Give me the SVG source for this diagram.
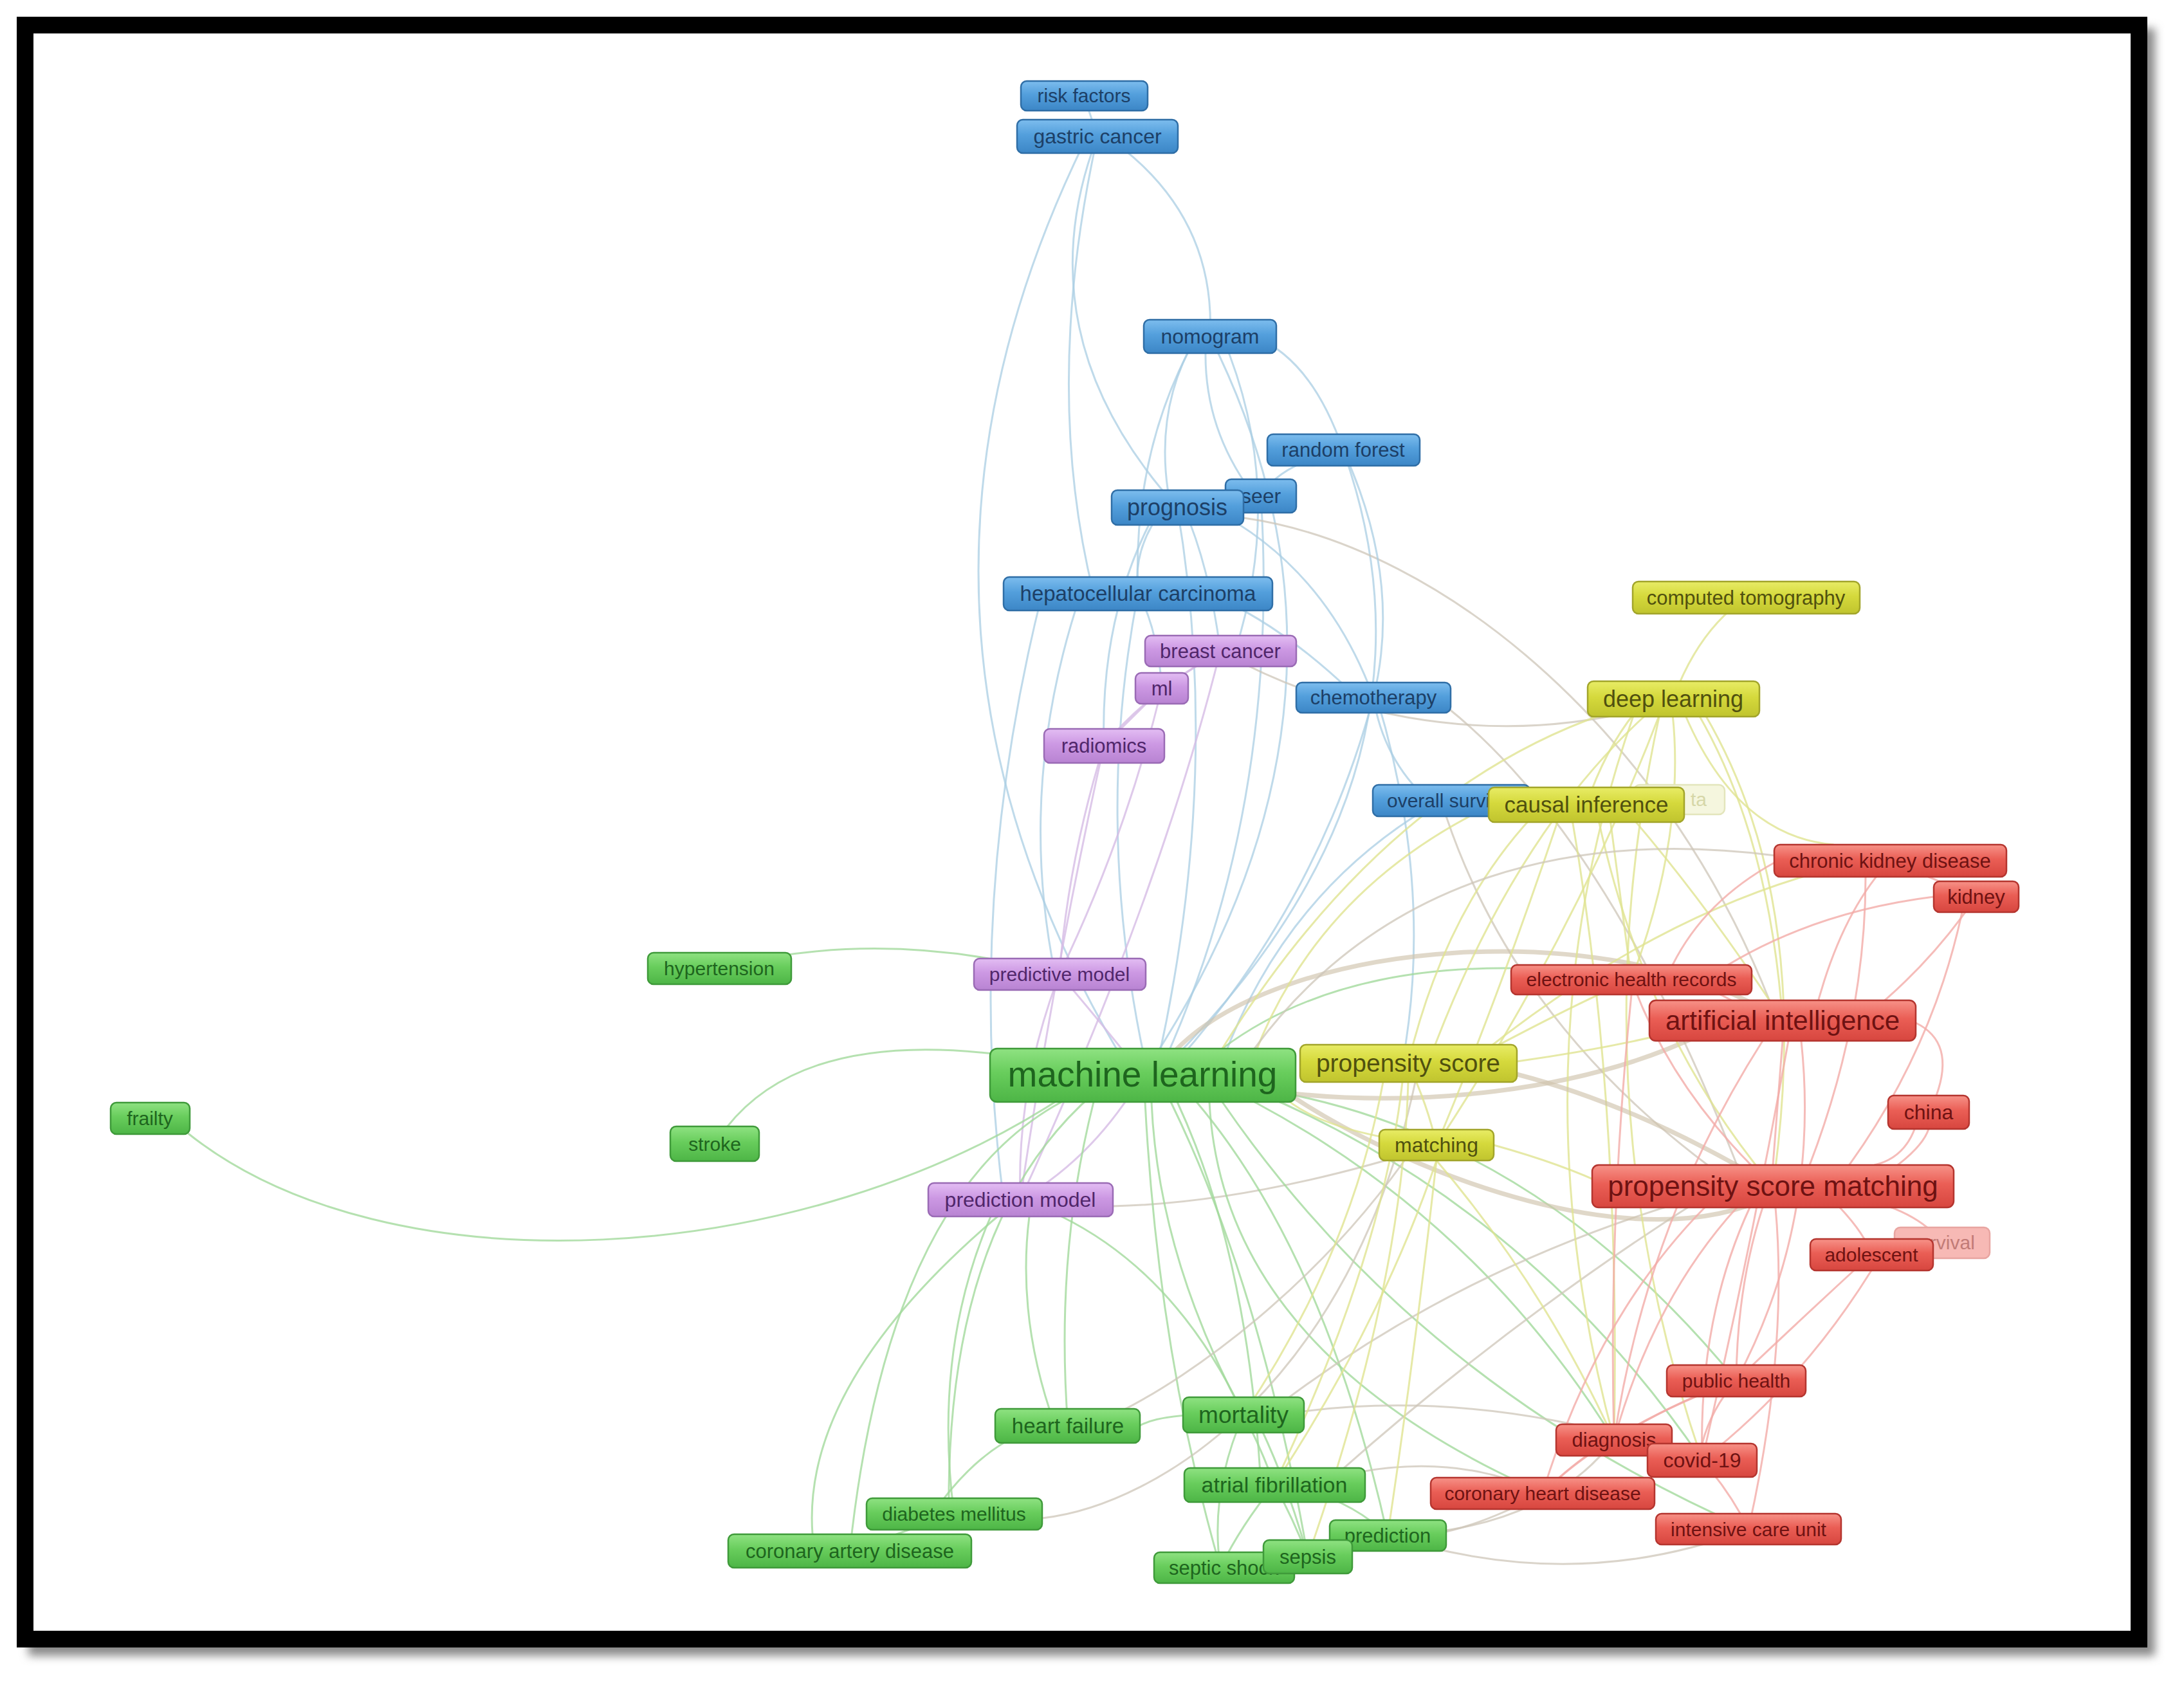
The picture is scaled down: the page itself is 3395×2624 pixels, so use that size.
<svg xmlns="http://www.w3.org/2000/svg" width="3395" height="2624" viewBox="0 0 3395 2624">
<defs>
<filter id="fblur" x="-5%" y="-5%" width="110%" height="110%"><feGaussianBlur stdDeviation="7"/></filter>
<linearGradient id="gG" x1="0" y1="0" x2="0" y2="1"><stop offset="0" stop-color="#8FE282"/><stop offset="0.45" stop-color="#68CD5C"/><stop offset="1" stop-color="#4DB546"/></linearGradient>
<linearGradient id="gB" x1="0" y1="0" x2="0" y2="1"><stop offset="0" stop-color="#7DBDEE"/><stop offset="0.45" stop-color="#539FDC"/><stop offset="1" stop-color="#3C86C6"/></linearGradient>
<linearGradient id="gP" x1="0" y1="0" x2="0" y2="1"><stop offset="0" stop-color="#E3BDF3"/><stop offset="0.45" stop-color="#CC98E3"/><stop offset="1" stop-color="#B883D2"/></linearGradient>
<linearGradient id="gY" x1="0" y1="0" x2="0" y2="1"><stop offset="0" stop-color="#E8EC66"/><stop offset="0.45" stop-color="#D5D93C"/><stop offset="1" stop-color="#C0C42E"/></linearGradient>
<linearGradient id="gR" x1="0" y1="0" x2="0" y2="1"><stop offset="0" stop-color="#F79288"/><stop offset="0.45" stop-color="#EA5E55"/><stop offset="1" stop-color="#D7463F"/></linearGradient>
</defs>
<style>
.node rect{stroke-width:2.5}
.node text{font-family:"Liberation Sans",Arial,sans-serif;text-anchor:middle}
.g rect{fill:url(#gG);stroke:#3F9A3A}
.g text{fill:#1E651E}
.b rect{fill:url(#gB);stroke:#2F6EA6}
.b text{fill:#1D3F66}
.p rect{fill:url(#gP);stroke:#9A6BB5}
.p text{fill:#50266A}
.y rect{fill:url(#gY);stroke:#A2A52A}
.y text{fill:#50500F}
.r rect{fill:url(#gR);stroke:#B5352F}
.r text{fill:#6E1212}
#connectors path{fill:none;stroke-width:3;stroke-linecap:round}
#connectors .eb{stroke:#A9CDE3;opacity:.75}
#connectors .eg{stroke:#A2D99C;opacity:.8}
#connectors .ey{stroke:#E0E391;opacity:.8}
#connectors .er{stroke:#F2ABA8;opacity:.8}
#connectors .ep{stroke:#D6BCE5;opacity:.8}
#connectors .ex{stroke:#CDC6B8;opacity:.75}
#connectors .thick{stroke:#CFC3AC;stroke-width:7;opacity:.65}
</style>
<rect x="0" y="0" width="3395" height="2624" fill="#FFFFFF"/>
<rect x="44" y="44" width="3306" height="2530" fill="#8A8A8A" filter="url(#fblur)"/>
<rect x="39" y="39" width="3286" height="2509" fill="#FFFFFF" stroke="#000000" stroke-width="26"/>

<g id="connectors">
<!-- blue -->
<path class="eb" d="M1685 149 L1706 212"/>
<path class="eb" d="M1690 212 Q1320 960 1760 1671"/>
<path class="eb" d="M1706 212 Q1588 520 1830 789"/>
<path class="eb" d="M1706 212 Q1620 600 1700 923"/>
<path class="eb" d="M1720 212 Q1890 330 1881 523"/>
<path class="eb" d="M1860 523 Q1790 640 1820 789"/>
<path class="eb" d="M1875 523 Q1865 660 1950 771"/>
<path class="eb" d="M1900 523 Q2000 760 1920 1012"/>
<path class="eb" d="M1860 523 Q1760 700 1769 923"/>
<path class="eb" d="M1950 523 Q2040 560 2088 700"/>
<path class="eb" d="M2088 700 Q2266 1200 1820 1650"/>
<path class="eb" d="M1830 789 Q1900 1200 1800 1650"/>
<path class="eb" d="M1769 923 Q1700 1280 1780 1650"/>
<path class="eb" d="M1960 771 Q1990 1250 1810 1650"/>
<path class="eb" d="M1881 523 Q2160 1080 1790 1650"/>
<path class="eb" d="M2135 1084 Q2050 1400 1830 1650"/>
<path class="eb" d="M1810 789 Q1760 850 1769 923"/>
<path class="eb" d="M1800 789 Q1710 950 1716 1159"/>
<path class="eb" d="M1840 789 Q1880 880 1897 1012"/>
<path class="eb" d="M1880 789 Q2060 880 2135 1084"/>
<path class="ex" d="M1933 805 C2250 850 2600 1150 2760 1580"/>
<path class="eb" d="M1880 923 Q1990 970 2100 1075"/>
<path class="eb" d="M1620 923 Q1500 1400 1560 1865"/>
<path class="eb" d="M1680 923 Q1580 1220 1640 1514"/>
<path class="eb" d="M2135 1084 Q2150 1180 2220 1244"/>
<path class="eb" d="M2140 1084 Q2230 1380 2180 1653"/>
<path class="eb" d="M2240 1244 Q2000 1380 1900 1650"/>
<path class="ex" d="M2240 1244 Q2350 1600 2700 1844"/>
<path class="eb" d="M1960 771 Q1990 720 2088 700"/>
<path class="eb" d="M2088 700 Q2180 900 2135 1084"/>
<path class="eb" d="M1770 923 Q1800 980 1806 1070"/>
<path class="ex" d="M1897 1012 C2050 1100 2300 1170 2560 1100"/>
<path class="ex" d="M2250 1100 Q2500 1300 2700 1811"/>
<!-- purple -->
<path class="ep" d="M1897 1012 L1806 1070"/>
<path class="ep" d="M1897 1012 Q1780 1080 1716 1159"/>
<path class="ep" d="M1806 1070 L1716 1159"/>
<path class="ep" d="M1716 1159 Q1660 1340 1647 1514"/>
<path class="ep" d="M1716 1159 Q1640 1500 1586 1865"/>
<path class="ep" d="M1647 1514 Q1580 1690 1586 1865"/>
<path class="ep" d="M1647 1514 Q1720 1600 1776 1671"/>
<path class="ep" d="M1586 1865 Q1700 1800 1776 1671"/>
<path class="ep" d="M1806 1070 Q1750 1300 1647 1514"/>
<path class="ep" d="M1897 1012 Q1800 1400 1586 1865"/>
<path class="eg" d="M1559 1884 Q1228 2162 1266 2411"/>
<path class="eg" d="M1540 1891 Q1450 2100 1483 2353"/>
<path class="eg" d="M1600 1891 Q1580 2050 1640 2216"/>
<path class="eg" d="M1650 1891 Q1830 1980 1933 2199"/>
<path class="ex" d="M1730 1875 Q1950 1870 2233 1780"/>
<!-- green -->
<path class="eg" d="M1118 1505 Q1370 1440 1647 1514"/>
<path class="eg" d="M290 1760 C600 2010 1250 1975 1660 1700"/>
<path class="eg" d="M1130 1752 Q1250 1600 1560 1640"/>
<path class="eg" d="M1700 1713 Q1640 1950 1660 2216"/>
<path class="eg" d="M1700 1700 Q1470 1900 1475 2353"/>
<path class="eg" d="M1790 1713 Q1800 1950 1933 2199"/>
<path class="eg" d="M1830 1713 Q1940 1950 1960 2308"/>
<path class="eg" d="M1780 1713 Q1800 2100 1897 2437"/>
<path class="eg" d="M1820 1713 Q1960 2000 2033 2420"/>
<path class="eg" d="M1860 1713 Q2060 1950 2157 2387"/>
<path class="eg" d="M1650 1713 Q1380 1860 1321 2411"/>
<path class="eg" d="M1880 1713 Q1900 2100 2398 2321"/>
<path class="eg" d="M1950 1713 Q2300 1900 2509 2238"/>
<path class="eg" d="M1960 1700 Q2380 1880 2646 2270"/>
<path class="eg" d="M1900 1713 Q2200 2150 2718 2377"/>
<path class="eg" d="M2000 1700 Q2400 1780 2699 2146"/>
<path class="eg" d="M1772 2216 Q1810 2195 1933 2199"/>
<path class="eg" d="M1560 2243 Q1500 2280 1450 2353"/>
<path class="ex" d="M1620 2360 C1800 2340 2100 2150 2200 1682"/>
<path class="ex" d="M1740 2195 C1850 2140 2050 2000 2200 1780"/>
<path class="eg" d="M1933 2199 Q1960 2250 1981 2308"/>
<path class="eg" d="M1933 2199 Q1880 2320 1897 2437"/>
<path class="eg" d="M1950 2199 Q2000 2300 2033 2420"/>
<path class="eg" d="M1981 2308 Q1930 2370 1897 2437"/>
<path class="eg" d="M1981 2308 Q2010 2360 2033 2420"/>
<path class="eg" d="M2000 2308 Q2100 2330 2157 2387"/>
<path class="eg" d="M1897 2437 L2033 2420"/>
<path class="ex" d="M2000 2175 Q2300 1950 2700 1844"/>
<path class="ex" d="M2080 2290 Q2350 2050 2650 1860"/>
<path class="ex" d="M1990 2199 Q2300 2150 2646 2270"/>
<path class="ex" d="M2060 2300 Q2250 2250 2398 2321"/>
<path class="ex" d="M2157 2387 Q2400 2380 2509 2238"/>
<path class="ex" d="M2157 2387 Q2250 2400 2398 2321"/>
<path class="ex" d="M2157 2387 Q2450 2480 2718 2377"/>
<path class="eg" d="M1483 2353 L1321 2411"/>
<path class="thick" d="M2010 1705 C2200 1830 2550 1960 2750 1860"/>
<path class="thick" d="M1830 1630 C2000 1460 2500 1420 2760 1580"/>
<path class="thick" d="M2010 1700 C2200 1720 2450 1700 2640 1610"/>
<path class="eg" d="M1900 1630 Q2100 1480 2450 1510"/>
<!-- yellow -->
<path class="ey" d="M2714 929 Q2640 980 2601 1086"/>
<path class="ey" d="M2560 1086 Q2500 1150 2466 1251"/>
<path class="ey" d="M2493 1110 Q2150 1230 1900 1630"/>
<path class="ey" d="M2560 1110 Q2350 1300 2220 1653"/>
<path class="ey" d="M2580 1110 Q2450 1450 2233 1780"/>
<path class="ey" d="M2600 1110 Q2620 1300 2536 1523"/>
<path class="ey" d="M2640 1110 Q2750 1300 2771 1586"/>
<path class="ey" d="M2619 1110 Q2700 1300 2850 1313"/>
<path class="ey" d="M2650 1110 Q2820 1400 2756 1844"/>
<path class="ey" d="M2540 1110 Q2350 1650 2509 2238"/>
<path class="ey" d="M2580 1110 Q2450 1700 2646 2270"/>
<path class="ey" d="M2400 1251 Q2250 1400 2189 1653"/>
<path class="ey" d="M2430 1251 Q2330 1550 2233 1780"/>
<path class="ey" d="M2480 1251 Q2550 1600 2756 1844"/>
<path class="ey" d="M2320 1251 Q2050 1380 1950 1640"/>
<path class="ey" d="M2500 1251 Q2520 1400 2536 1523"/>
<path class="ey" d="M2520 1251 Q2650 1400 2771 1586"/>
<path class="ey" d="M2440 1251 Q2520 1700 2509 2238"/>
<path class="ey" d="M2189 1653 Q2220 1720 2233 1780"/>
<path class="thick" d="M2358 1670 Q2550 1720 2756 1844"/>
<path class="ey" d="M2300 1640 Q2450 1560 2536 1523"/>
<path class="ey" d="M2300 1640 Q2600 1400 2900 1338"/>
<path class="ey" d="M2358 1650 Q2500 1630 2620 1600"/>
<path class="ey" d="M2322 1780 Q2430 1810 2500 1844"/>
<path class="ey" d="M2233 1780 Q2050 1760 1990 1700"/>
<path class="ey" d="M2233 1804 Q2150 2050 1981 2308"/>
<path class="ey" d="M2233 1804 Q2200 2100 2157 2387"/>
<path class="ey" d="M2233 1804 Q2400 2000 2509 2238"/>
<path class="ey" d="M2189 1682 Q2180 2000 2033 2420"/>
<path class="ey" d="M2180 1682 Q2150 1950 1981 2308"/>
<path class="ey" d="M2150 1682 Q2100 1950 1933 2199"/>
<!-- red -->
<path class="er" d="M2756 1811 L2771 1618"/>
<path class="er" d="M2950 1811 Q2990 1780 2998 1755"/>
<path class="er" d="M2978 1590 Q3040 1620 3010 1703"/>
<path class="er" d="M2977 1753 Q2960 1800 2914 1811"/>
<path class="er" d="M2860 1877 Q2900 1920 2909 1950"/>
<path class="er" d="M2880 1860 Q2980 1880 3019 1932"/>
<path class="er" d="M2740 1877 Q2700 2000 2699 2146"/>
<path class="er" d="M2720 1877 Q2640 2050 2646 2270"/>
<path class="er" d="M2700 1877 Q2570 2020 2509 2238"/>
<path class="er" d="M2760 1877 Q2780 2100 2718 2377"/>
<path class="er" d="M2650 1877 Q2480 2050 2398 2321"/>
<path class="er" d="M2800 1618 Q2830 1900 2699 2146"/>
<path class="er" d="M2780 1618 Q2720 1950 2646 2270"/>
<path class="er" d="M2740 1618 Q2560 1900 2509 2238"/>
<path class="er" d="M2820 1580 Q2860 1420 2938 1338"/>
<path class="er" d="M2900 1580 Q3000 1500 3072 1394"/>
<path class="er" d="M2700 1560 Q2650 1530 2600 1523"/>
<path class="er" d="M2900 1363 Q2900 1600 2800 1844"/>
<path class="er" d="M3050 1418 Q3000 1650 2850 1844"/>
<path class="er" d="M2938 1338 L3072 1394"/>
<path class="ex" d="M2760 1330 C2450 1290 2150 1360 1950 1630"/>
<path class="er" d="M3006 1394 Q2800 1420 2650 1523"/>
<path class="er" d="M2760 1340 Q2650 1400 2600 1500"/>
<path class="er" d="M2536 1523 Q2600 1700 2756 1844"/>
<path class="er" d="M2536 1546 Q2500 1900 2509 2238"/>
<path class="er" d="M2646 2270 Q2690 2320 2718 2377"/>
<path class="er" d="M2646 2244 Q2660 2190 2699 2146"/>
<path class="er" d="M2509 2238 Q2600 2180 2699 2146"/>
<path class="er" d="M2398 2321 Q2460 2260 2509 2238"/>
<path class="er" d="M2398 2321 Q2500 2220 2699 2146"/>
<path class="er" d="M2909 1950 Q2800 2050 2699 2146"/>
<path class="er" d="M2909 1975 Q2800 2150 2646 2270"/>
</g>

<!-- blue nodes -->
<g id="n-risk-factors" class="node b"><rect x="1587" y="126" width="197" height="46" rx="9"/><text x="1685" y="159" font-size="30">risk factors</text></g>
<g id="n-gastric-cancer" class="node b"><rect x="1581" y="186" width="250" height="52" rx="9"/><text x="1706" y="223" font-size="32">gastric cancer</text></g>
<g id="n-nomogram" class="node b"><rect x="1778" y="497" width="206" height="52" rx="9"/><text x="1881" y="534" font-size="32">nomogram</text></g>
<g id="n-random-forest" class="node b"><rect x="1970" y="675" width="237" height="49" rx="9"/><text x="2088" y="710" font-size="31">random forest</text></g>
<g id="n-seer" class="node b"><rect x="1905" y="745" width="110" height="52" rx="9"/><text x="1960" y="782" font-size="32">seer</text></g>
<g id="n-prognosis" class="node b"><rect x="1728" y="762" width="205" height="54" rx="9"/><text x="1830" y="801" font-size="36">prognosis</text></g>
<g id="n-hepatocellular-carcinoma" class="node b"><rect x="1560" y="897" width="418" height="52" rx="9"/><text x="1769" y="934" font-size="33">hepatocellular carcinoma</text></g>
<g id="n-chemotherapy" class="node b"><rect x="2015" y="1061" width="240" height="47" rx="9"/><text x="2135" y="1095" font-size="31">chemotherapy</text></g>
<g id="n-overall-survival" class="node b"><rect x="2134" y="1220" width="244" height="49" rx="9"/><text x="2156" y="1255" font-size="30" style="text-anchor:start">overall survival</text></g>

<!-- purple nodes -->
<g id="n-breast-cancer" class="node p"><rect x="1780" y="988" width="235" height="48" rx="9"/><text x="1897" y="1023" font-size="31">breast cancer</text></g>
<g id="n-ml" class="node p"><rect x="1765" y="1046" width="82" height="48" rx="9"/><text x="1806" y="1081" font-size="31">ml</text></g>
<g id="n-radiomics" class="node p"><rect x="1623" y="1133" width="187" height="53" rx="9"/><text x="1716" y="1170" font-size="31">radiomics</text></g>
<g id="n-predictive-model" class="node p"><rect x="1514" y="1490" width="267" height="49" rx="9"/><text x="1647" y="1525" font-size="30">predictive model</text></g>
<g id="n-prediction-model" class="node p"><rect x="1443" y="1839" width="287" height="52" rx="9"/><text x="1586" y="1876" font-size="32">prediction model</text></g>

<!-- yellow nodes -->
<g id="n-computed-tomography" class="node y"><rect x="2538" y="904" width="353" height="50" rx="9"/><text x="2714" y="940" font-size="31">computed tomography</text></g>
<g id="n-deep-learning" class="node y"><rect x="2468" y="1059" width="267" height="55" rx="9"/><text x="2601" y="1099" font-size="36">deep learning</text></g>
<g id="n-faded-data" class="node"><rect x="2540" y="1220" width="141" height="46" rx="9" fill="#F5F6DE" stroke="#E3E5BC"/><text x="2653" y="1253" font-size="30" fill="#D6D7A8" style="text-anchor:end">ta</text></g>
<g id="n-causal-inference" class="node y"><rect x="2314" y="1224" width="304" height="54" rx="9"/><text x="2466" y="1263" font-size="35">causal inference</text></g>
<g id="n-propensity-score" class="node y"><rect x="2021" y="1624" width="337" height="58" rx="9"/><text x="2189" y="1666" font-size="39">propensity score</text></g>
<g id="n-matching" class="node y"><rect x="2144" y="1756" width="178" height="48" rx="9"/><text x="2233" y="1791" font-size="32">matching</text></g>

<!-- red nodes -->
<g id="n-chronic-kidney-disease" class="node r"><rect x="2758" y="1313" width="361" height="50" rx="9"/><text x="2938" y="1349" font-size="31">chronic kidney disease</text></g>
<g id="n-kidney" class="node r"><rect x="3006" y="1370" width="132" height="48" rx="9"/><text x="3072" y="1405" font-size="31">kidney</text></g>
<g id="n-electronic-health-records" class="node r"><rect x="2349" y="1500" width="374" height="46" rx="9"/><text x="2536" y="1533" font-size="30">electronic health records</text></g>
<g id="n-artificial-intelligence" class="node r"><rect x="2564" y="1555" width="414" height="63" rx="10"/><text x="2771" y="1601" font-size="42">artificial intelligence</text></g>
<g id="n-china" class="node r"><rect x="2935" y="1703" width="126" height="52" rx="9"/><text x="2998" y="1740" font-size="32">china</text></g>
<g id="n-propensity-score-matching" class="node r"><rect x="2475" y="1811" width="562" height="66" rx="10"/><text x="2756" y="1859" font-size="44">propensity score matching</text></g>
<g id="n-survival" class="node"><rect x="2945" y="1908" width="148" height="48" rx="9" fill="#F7B9B5" stroke="#E8A5A1"/><text x="3019" y="1942" font-size="30" fill="#C27B77">survival</text></g>
<g id="n-adolescent" class="node r"><rect x="2814" y="1926" width="191" height="49" rx="9"/><text x="2909" y="1961" font-size="30">adolescent</text></g>
<g id="n-public-health" class="node r"><rect x="2591" y="2122" width="216" height="49" rx="9"/><text x="2699" y="2157" font-size="30">public health</text></g>
<g id="n-diagnosis" class="node r"><rect x="2419" y="2214" width="180" height="49" rx="9"/><text x="2509" y="2249" font-size="31">diagnosis</text></g>
<g id="n-covid-19" class="node r"><rect x="2561" y="2244" width="170" height="52" rx="9"/><text x="2646" y="2281" font-size="32">covid-19</text></g>
<g id="n-coronary-heart-disease" class="node r"><rect x="2224" y="2297" width="348" height="49" rx="9"/><text x="2398" y="2332" font-size="30">coronary heart disease</text></g>
<g id="n-intensive-care-unit" class="node r"><rect x="2574" y="2353" width="288" height="48" rx="9"/><text x="2718" y="2388" font-size="30">intensive care unit</text></g>

<!-- green nodes -->
<g id="n-hypertension" class="node g"><rect x="1007" y="1481" width="223" height="49" rx="9"/><text x="1118" y="1516" font-size="30">hypertension</text></g>
<g id="n-frailty" class="node g"><rect x="172" y="1714" width="123" height="49" rx="9"/><text x="233" y="1749" font-size="30">frailty</text></g>
<g id="n-stroke" class="node g"><rect x="1042" y="1751" width="138" height="54" rx="9"/><text x="1111" y="1789" font-size="30">stroke</text></g>
<g id="n-machine-learning" class="node g"><rect x="1539" y="1630" width="475" height="83" rx="11"/><text x="1776" y="1689" font-size="55">machine learning</text></g>
<g id="n-heart-failure" class="node g"><rect x="1547" y="2190" width="225" height="53" rx="9"/><text x="1660" y="2228" font-size="33">heart failure</text></g>
<g id="n-mortality" class="node g"><rect x="1839" y="2172" width="188" height="55" rx="9"/><text x="1933" y="2212" font-size="37">mortality</text></g>
<g id="n-atrial-fibrillation" class="node g"><rect x="1841" y="2282" width="281" height="53" rx="9"/><text x="1981" y="2320" font-size="34">atrial fibrillation</text></g>
<g id="n-diabetes-mellitus" class="node g"><rect x="1347" y="2329" width="273" height="49" rx="9"/><text x="1483" y="2364" font-size="30">diabetes mellitus</text></g>
<g id="n-coronary-artery-disease" class="node g"><rect x="1132" y="2385" width="378" height="52" rx="9"/><text x="1321" y="2422" font-size="31">coronary artery disease</text></g>
<g id="n-septic-shock" class="node g"><rect x="1794" y="2413" width="218" height="48" rx="9"/><text x="1817" y="2448" font-size="31" style="text-anchor:start">septic shock</text></g>
<g id="n-prediction" class="node g"><rect x="2067" y="2363" width="181" height="48" rx="9"/><text x="2157" y="2398" font-size="31">prediction</text></g>
<g id="n-sepsis" class="node g"><rect x="1964" y="2394" width="138" height="52" rx="9"/><text x="2033" y="2431" font-size="31">sepsis</text></g>
</svg>
